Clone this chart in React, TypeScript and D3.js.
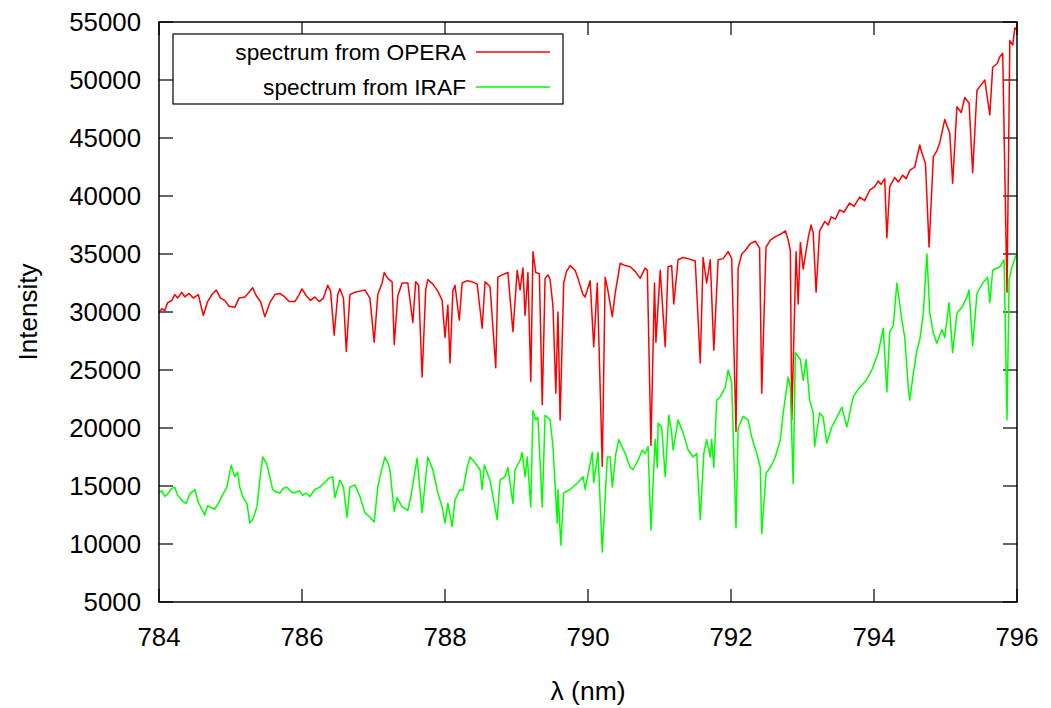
import React from "react";
import * as d3 from "d3";

// OPERA spectrum: wavelength (nm) and intensity
const operaWl = [
  784.00, 784.04, 784.08, 784.12, 784.18, 784.22, 784.26, 784.32, 784.36, 784.42, 784.48, 784.55, 784.62, 784.68, 784.74, 784.80, 784.86, 784.92, 784.98,
  785.06, 785.12, 785.20, 785.26, 785.31, 785.36, 785.42, 785.48, 785.55, 785.62, 785.69, 785.76, 785.82, 785.90, 785.96,
  786.00, 786.06, 786.12, 786.18, 786.24, 786.30, 786.36, 786.40, 786.45, 786.50, 786.53, 786.58, 786.62, 786.67, 786.74, 786.81, 786.88, 786.95,
  787.01, 787.06, 787.12, 787.15, 787.20, 787.26, 787.29, 787.34, 787.40, 787.48, 787.55, 787.59, 787.63, 787.68, 787.73, 787.76, 787.83, 787.90, 787.96,
  788.00, 788.04, 788.07, 788.11, 788.14, 788.20, 788.24, 788.31, 788.38, 788.45, 788.52, 788.56, 788.63, 788.71, 788.74, 788.80, 788.88, 788.95,
  789.01, 789.05, 789.09, 789.12, 789.16, 789.20, 789.23, 789.27, 789.32, 789.36, 789.40, 789.44, 789.47, 789.51, 789.55, 789.58, 789.61, 789.66, 789.70, 789.75, 789.82, 789.86, 789.89, 789.93, 789.96,
  790.03, 790.08, 790.13, 790.20, 790.24, 790.28, 790.34, 790.38, 790.45, 790.52, 790.59, 790.66, 790.73, 790.80, 790.83, 790.88, 790.93, 790.95, 791.01, 791.08, 791.12, 791.17, 791.20, 791.26, 791.33, 791.40, 791.50, 791.57, 791.61, 791.66, 791.71, 791.76, 791.82, 791.89, 791.96,
  792.01, 792.07, 792.10, 792.15, 792.20, 792.27, 792.34, 792.40, 792.43, 792.49, 792.55, 792.62, 792.69, 792.76, 792.80, 792.83, 792.85, 792.91, 792.94, 792.97,
  793.01, 793.08, 793.12, 793.15, 793.19, 793.24, 793.31, 793.36, 793.40, 793.46, 793.52, 793.58, 793.66, 793.72, 793.80, 793.87, 793.94,
  794.01, 794.06, 794.10, 794.15, 794.18, 794.22, 794.29, 794.34, 794.40, 794.45, 794.50, 794.57, 794.64, 794.67, 794.72, 794.77, 794.83, 794.88, 794.92, 794.99,
  795.06, 795.10, 795.16, 795.22, 795.27, 795.33, 795.38, 795.44, 795.50, 795.55, 795.62, 795.66, 795.72, 795.76, 795.80, 795.86, 795.90, 795.94, 795.97, 796.00,
];
const operaI = [
  29900, 30300, 30100, 30800, 31000, 31500, 31200, 31700, 31300, 31600, 31200, 31500, 29700, 30900, 31500, 31900, 31200, 31000, 30500,
  30400, 31200, 31300, 31700, 32100, 31400, 30900, 29600, 30800, 31500, 31600, 31300, 30900, 30900, 31500,
  32000, 31400, 31000, 31300, 30900, 31200, 32300, 31800, 28000, 31500, 32000, 31200, 26600, 31500, 31700, 31800, 31900, 31200,
  27400, 31500, 32500, 33400, 32900, 32600, 27200, 31400, 32500, 32500, 29100, 32600, 32300, 24400, 31900, 32800, 32400, 31800, 31000,
  27800, 30600, 25600, 31800, 32300, 29300, 32500, 32700, 32600, 32400, 28600, 32600, 32200, 25200, 33000, 33200, 33400, 28300,
  33600, 31900, 33800, 29700, 33400, 24000, 35200, 33400, 33300, 22000, 32900, 33200, 32800, 30500, 23000, 30000, 20700, 32500, 33500, 34000, 33600, 32900, 32300, 31500, 31300,
  32700, 27000, 32500, 16700, 33000, 31800, 29600, 31600, 34200, 34000, 33900, 33500, 32900, 33800, 33600, 18500, 32500, 27400, 33600, 27000, 33900, 34000, 30700, 34500, 34700, 34600, 34400, 25600, 34700, 32500, 34500, 26700, 34500, 34600, 35200,
  34600, 19700, 33800, 35000, 35300, 35900, 36100, 35500, 23000, 35600, 36200, 36500, 36700, 37000, 36200, 35300, 20700, 35200, 30700, 36000,
  33700, 36400, 37500, 36800, 31700, 37000, 37800, 37500, 38200, 38000, 38800, 38600, 39400, 39100, 39900, 39600, 40500,
  40800, 41300, 41000, 41500, 36400, 40800, 41600, 41200, 41800, 41500, 42200, 42500, 44400, 43700, 42800, 35600, 43400, 43900, 44600, 46600,
  45400, 41100, 47700, 47200, 48500, 48000, 42000, 49100, 49600, 50000, 47000, 51100, 51400, 52000, 52300, 31700, 53400, 53000, 54500, 54300,
];

// IRAF spectrum: wavelength (nm) and intensity
const irafWl = [
  784.00, 784.04, 784.08, 784.12, 784.18, 784.22, 784.26, 784.29, 784.33, 784.38, 784.43, 784.50, 784.55, 784.64, 784.68, 784.71, 784.78, 784.84, 784.88, 784.95,
  785.01, 785.06, 785.10, 785.13, 785.17, 785.23, 785.27, 785.31, 785.37, 785.41, 785.45, 785.50, 785.52, 785.59, 785.63, 785.69, 785.74, 785.79, 785.85, 785.90, 785.96,
  786.01, 786.06, 786.11, 786.18, 786.25, 786.32, 786.38, 786.43, 786.46, 786.53, 786.58, 786.63, 786.67, 786.74, 786.81, 786.88, 786.95,
  787.01, 787.06, 787.11, 787.16, 787.20, 787.23, 787.29, 787.33, 787.40, 787.48, 787.52, 787.61, 787.68, 787.76, 787.83, 787.90, 787.96,
  788.00, 788.04, 788.10, 788.14, 788.21, 788.25, 788.31, 788.35, 788.42, 788.49, 788.52, 788.55, 788.63, 788.73, 788.77, 788.84, 788.88, 788.95, 788.98,
  789.05, 789.08, 789.12, 789.15, 789.20, 789.23, 789.27, 789.30, 789.36, 789.40, 789.47, 789.51, 789.57, 789.58, 789.62, 789.66, 789.75, 789.86, 789.93, 789.96,
  790.06, 790.08, 790.14, 790.20, 790.27, 790.31, 790.34, 790.39, 790.43, 790.52, 790.59, 790.63, 790.70, 790.76, 790.80, 790.84, 790.88, 790.94, 790.97, 790.98,
  791.03, 791.08, 791.13, 791.17, 791.19, 791.26, 791.33, 791.40, 791.47, 791.52, 791.57, 791.62, 791.66, 791.71, 791.73, 791.76, 791.80, 791.85, 791.92, 791.96,
  792.01, 792.07, 792.10, 792.17, 792.24, 792.29, 792.36, 792.41, 792.43, 792.49, 792.55, 792.62, 792.69, 792.73, 792.78, 792.80, 792.83, 792.87, 792.90, 792.97,
  793.01, 793.05, 793.10, 793.15, 793.17, 793.24, 793.29, 793.34, 793.41, 793.48, 793.55, 793.62, 793.71, 793.80, 793.89, 793.97,
  794.06, 794.13, 794.18, 794.22, 794.27, 794.32, 794.39, 794.43, 794.48, 794.50, 794.55, 794.60, 794.64, 794.69, 794.74, 794.78, 794.83, 794.88, 794.95, 794.99,
  795.05, 795.10, 795.16, 795.23, 795.30, 795.33, 795.38, 795.44, 795.52, 795.59, 795.62, 795.66, 795.76, 795.82, 795.86, 795.89, 795.93, 796.00,
];
const irafI = [
  14400, 14600, 14100, 14300, 14800, 14900, 14200, 14000, 13700, 13500, 14300, 14700, 13600, 12500, 13300, 13200, 13000, 13600, 14100, 14900,
  16800, 15800, 16200, 14900, 14100, 13500, 11800, 12100, 13200, 15500, 17500, 17000, 16600, 14700, 14500, 14400, 14800, 14900, 14500, 14400, 14600,
  14200, 14400, 14100, 14700, 14900, 15300, 15700, 15800, 14000, 15500, 14900, 12300, 14900, 15100, 14100, 12700, 12300,
  11900, 14900, 16300, 17500, 17000, 16400, 12800, 14000, 13200, 12900, 14000, 17400, 12700, 17500, 16400, 14400, 13200,
  11800, 13500, 11500, 13800, 14700, 14600, 16600, 17500, 17000, 16400, 14700, 16800, 15500, 12100, 15500, 15800, 16600, 13500, 16400,
  17200, 17900, 15800, 17500, 13200, 21500, 20700, 20900, 13200, 21100, 20700, 18400, 11800, 14700, 9900, 14400, 14700, 15300, 15800, 14700,
  17900, 15300, 17900, 9300, 17500, 17500, 14900, 17800, 19000, 17800, 16600, 16400, 17200, 18100, 17800, 18400, 11200, 19000, 16600, 20400,
  20100, 15800, 21100, 19600, 18100, 20700, 19600, 18100, 17500, 17800, 12100, 17800, 19000, 17500, 19000, 16600, 22400, 22700, 23500, 25000,
  23900, 11400, 20000, 21000, 20700, 19200, 17800, 16600, 10900, 16100, 16600, 17500, 19000, 21300, 23500, 24400, 23500, 15200, 26500, 25900,
  24100, 25900, 22400, 21300, 18400, 21300, 20900, 18700, 20100, 20900, 21800, 20100, 22700, 23500, 24100, 25000,
  26500, 28600, 23100, 28300, 28800, 32500, 29300, 27800, 23500, 22400, 24700, 26700, 27600, 29900, 35000, 29900, 28200, 27300, 28500, 27800,
  30800, 26500, 29900, 30400, 31300, 31900, 27100, 31600, 32500, 33000, 30800, 33600, 33900, 34500, 20700, 32800, 33900, 35100,
];

const xTicks = [784, 786, 788, 790, 792, 794, 796];
const yTicks = [5000, 10000, 15000, 20000, 25000, 30000, 35000, 40000, 45000, 50000, 55000];
const seriesNames = ["spectrum from OPERA", "spectrum from IRAF"];
const seriesColors = ["#ff0000", "#00ff00"];

const W = 1051;
const H = 708;
const M = { left: 159, right: 1017, top: 22, bottom: 602 };
const FONT = "'Liberation Sans', Arial, Helvetica, sans-serif";

export default function App() {
  const x = d3.scaleLinear().domain([784, 796]).range([M.left, M.right]);
  const y = d3.scaleLinear().domain([5000, 55000]).range([M.bottom, M.top]);
  const line = d3
    .line<[number, number]>()
    .x((d) => x(d[0]))
    .y((d) => y(d[1]));

  const opera: [number, number][] = operaWl.map((w, i) => [w, operaI[i]]);
  const iraf: [number, number][] = irafWl.map((w, i) => [w, irafI[i]]);
  const series = [opera, iraf];

  const legendRowsY = [52, 87];

  return (
    <svg
      width={W}
      height={H}
      style={{ position: "absolute", left: 0, top: 0, background: "#fff" }}
      fontFamily={FONT}
    >
      <rect x={0} y={0} width={W} height={H} fill="#fff" />
      <defs>
        <clipPath id="plotClip">
          <rect x={M.left} y={M.top} width={M.right - M.left} height={M.bottom - M.top} />
        </clipPath>
      </defs>

      {/* ticks (mirrored, inward) */}
      {yTicks.map((t) => (
        <g key={"yt" + t}>
          <line x1={M.left} x2={M.left + 14} y1={y(t)} y2={y(t)} stroke="#000" strokeWidth={1.2} />
          <line x1={M.right} x2={M.right - 14} y1={y(t)} y2={y(t)} stroke="#000" strokeWidth={1.2} />
          <text x={141} y={y(t)} dy="0.36em" textAnchor="end" fontSize={25.8} fill="#000">
            {t}
          </text>
        </g>
      ))}
      {xTicks.map((t) => (
        <g key={"xt" + t}>
          <line x1={x(t)} x2={x(t)} y1={M.bottom} y2={M.bottom - 13} stroke="#000" strokeWidth={1.2} />
          <line x1={x(t)} x2={x(t)} y1={M.top} y2={M.top + 13} stroke="#000" strokeWidth={1.2} />
          <text x={x(t)} y={637} dy="0.36em" textAnchor="middle" fontSize={25.8} fill="#000">
            {t}
          </text>
        </g>
      ))}

      {/* data */}
      <g clipPath="url(#plotClip)">
        {series.map((s, i) => (
          <path key={i} d={line(s) || ""} fill="none" stroke={seriesColors[i]} strokeWidth={1.5} strokeLinejoin="round" />
        ))}
      </g>

      {/* legend */}
      <rect x={173} y={34} width={390} height={70} fill="#fff" stroke="#000" strokeWidth={1.2} />
      {seriesNames.map((n, i) => (
        <g key={n}>
          <text x={466} y={legendRowsY[i]} dy="0.36em" textAnchor="end" fontSize={22.7} fill="#000">
            {n}
          </text>
          <line x1={476} x2={550} y1={legendRowsY[i]} y2={legendRowsY[i]} stroke={seriesColors[i]} strokeWidth={1.5} />
        </g>
      ))}

      {/* frame */}
      <rect
        x={M.left}
        y={M.top}
        width={M.right - M.left}
        height={M.bottom - M.top}
        fill="none"
        stroke="#000"
        strokeWidth={1.5}
      />

      {/* axis labels */}
      <text x={588} y={690} dy="0.36em" textAnchor="middle" fontSize={26.5} fill="#000">
        λ (nm)
      </text>
      <text
        transform={`translate(28, ${(M.top + M.bottom) / 2}) rotate(-90)`}
        dy="0.36em"
        textAnchor="middle"
        fontSize={26}
        fill="#000"
      >
        Intensity
      </text>
    </svg>
  );
}
